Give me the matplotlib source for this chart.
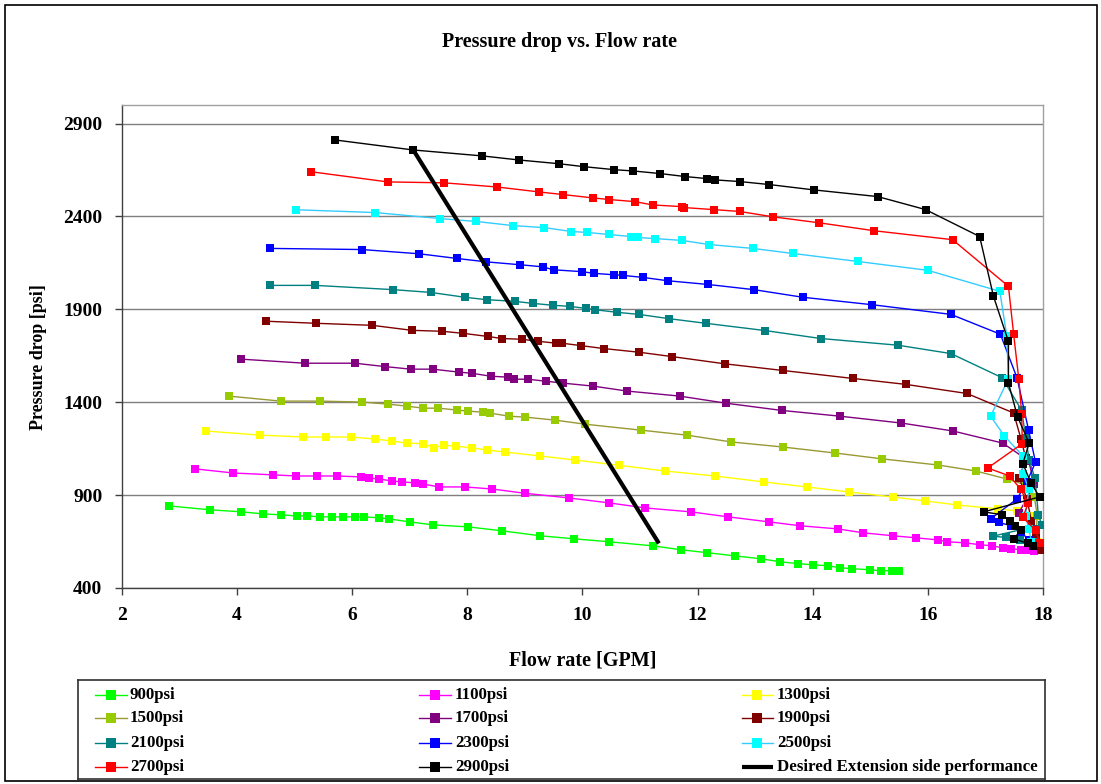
import matplotlib
matplotlib.use("Agg")
import matplotlib.pyplot as plt
from matplotlib.patches import Rectangle

plt.rcParams['font.family'] = ['Liberation Serif', 'DejaVu Serif']
plt.rcParams['font.weight'] = 'bold'

# ---- data: flow rate [GPM] and pressure drop [psi] per relief setting ----
flow_900 = [2.82, 3.53, 4.08, 4.45, 4.76, 5.04, 5.22, 5.45, 5.65, 5.85, 6.05, 6.20, 6.47, 6.64,
            7.00, 7.40, 8.02, 8.60, 9.27, 9.85, 10.46, 11.22, 11.71, 12.17, 12.65, 13.11, 13.44,
            13.75, 14.00, 14.26, 14.47, 14.69, 14.99, 15.18, 15.37, 15.50]
dp_900 = [842, 821, 810, 799, 794, 788, 788, 783, 783, 783, 783, 783, 778, 772,
          756, 740, 729, 708, 681, 665, 649, 627, 606, 590, 573, 557, 541,
          531, 525, 520, 509, 504, 498, 493, 493, 493]

flow_1100 = [3.28, 3.94, 4.63, 5.03, 5.39, 5.74, 6.16, 6.29, 6.47, 6.69, 6.87, 7.09, 7.23, 7.51,
             7.96, 8.43, 9.00, 9.76, 10.47, 11.09, 11.88, 12.53, 13.24, 13.78, 14.44, 14.88,
             15.40, 15.80, 16.17, 16.34, 16.65, 16.90, 17.12, 17.30, 17.45, 17.61, 17.75, 17.85]
dp_1100 = [1041, 1019, 1009, 1003, 1003, 1003, 998, 992, 987, 976, 971, 966, 960, 944,
           944, 933, 910, 885, 858, 831, 810, 783, 756, 735, 718, 697,
           681, 670, 659, 649, 643, 633, 627, 616, 611, 606, 603, 600]

flow_1300 = [3.46, 4.40, 5.15, 5.54, 5.98, 6.40, 6.69, 6.95, 7.23, 7.42, 7.59, 7.80, 8.08, 8.35,
             8.65, 9.26, 9.87, 10.63, 11.43, 12.30, 13.15, 13.90, 14.63, 15.39, 15.95, 16.51,
             17.21, 17.55, 17.75, 17.85, 17.90]
dp_1300 = [1245, 1223, 1213, 1213, 1213, 1202, 1191, 1180, 1177, 1156, 1168, 1164, 1154, 1143,
           1132, 1111, 1089, 1061, 1030, 1003, 971, 944, 917, 890, 869, 847,
           826, 815, 790, 720, 650]

flow_1500 = [3.86, 4.76, 5.45, 6.17, 6.62, 6.95, 7.24, 7.50, 7.82, 8.01, 8.27, 8.39, 8.72, 9.00,
             9.52, 10.04, 11.01, 11.81, 12.59, 13.48, 14.38, 15.21, 16.18, 16.83, 17.37, 17.70,
             17.85, 17.90, 17.88]
dp_1500 = [1433, 1406, 1406, 1401, 1390, 1379, 1368, 1368, 1358, 1352, 1347, 1342, 1325, 1320,
           1304, 1282, 1250, 1223, 1186, 1159, 1127, 1095, 1062, 1030, 987, 955,
           890, 790, 690]

flow_1700 = [4.07, 5.18, 6.05, 6.57, 7.02, 7.40, 7.86, 8.08, 8.41, 8.71, 8.81, 9.05, 9.37, 9.66,
             10.18, 10.78, 11.69, 12.49, 13.46, 14.47, 15.54, 16.44, 17.30, 17.75, 17.85, 17.58,
             17.88, 17.92]
dp_1700 = [1632, 1610, 1610, 1592, 1578, 1578, 1562, 1556, 1540, 1535, 1524, 1524, 1513, 1503,
           1487, 1460, 1433, 1395, 1356, 1325, 1288, 1245, 1180, 1085, 960, 803,
           720, 640]

flow_1900 = [4.51, 5.37, 6.35, 7.04, 7.56, 7.93, 8.36, 8.60, 8.95, 9.23, 9.54, 9.64, 9.97, 10.37,
             10.99, 11.55, 12.47, 13.48, 14.70, 15.62, 16.68, 17.49, 17.62, 17.70, 17.59, 17.72,
             17.80, 17.88, 17.97]
dp_1900 = [1836, 1825, 1814, 1787, 1782, 1771, 1754, 1743, 1739, 1728, 1718, 1718, 1705, 1689,
           1669, 1646, 1607, 1571, 1528, 1496, 1447, 1342, 1200, 1100, 990, 880,
           760, 680, 604]

flow_2100 = [4.57, 5.36, 6.72, 7.37, 7.96, 8.34, 8.83, 9.14, 9.49, 9.78, 10.07, 10.22, 10.60, 10.98,
             11.50, 12.14, 13.17, 14.14, 15.48, 16.40, 17.29, 17.63, 17.70, 17.76, 17.86, 17.92,
             17.98, 17.13, 17.36, 17.60, 17.85]
dp_2100 = [2029, 2029, 2006, 1991, 1965, 1952, 1943, 1932, 1922, 1916, 1905, 1898, 1884, 1873,
           1850, 1825, 1786, 1743, 1707, 1662, 1532, 1356, 1209, 1087, 992, 792,
           740, 679, 672, 660, 650]

flow_2300 = [4.57, 6.17, 7.17, 7.82, 8.32, 8.92, 9.31, 9.50, 9.99, 10.20, 10.55, 10.70, 11.05, 11.48,
             12.18, 12.98, 13.83, 15.03, 16.40, 17.26, 17.55, 17.75, 17.87, 17.72, 17.55, 17.10,
             17.23, 17.45, 17.62, 17.75]
dp_2300 = [2228, 2222, 2199, 2174, 2156, 2140, 2129, 2113, 2103, 2094, 2086, 2083, 2072, 2054,
           2034, 2006, 1965, 1925, 1873, 1766, 1530, 1250, 1077, 971, 880, 774,
           753, 735, 700, 660]

flow_2500 = [5.03, 6.40, 7.52, 8.16, 8.79, 9.34, 9.81, 10.08, 10.46, 10.84, 10.96, 11.26, 11.73, 12.20,
             12.96, 13.65, 14.78, 16.00, 17.25, 17.37, 17.40, 17.09, 17.33, 17.65, 17.65, 17.76,
             17.72, 17.70, 17.75, 17.80]
dp_2500 = [2436, 2421, 2389, 2373, 2351, 2340, 2319, 2314, 2303, 2292, 2287, 2281, 2271, 2249,
           2228, 2201, 2158, 2110, 1997, 1759, 1526, 1325, 1218, 1111, 1016, 932,
           860, 790, 720, 650]

flow_2700 = [5.28, 6.62, 7.60, 8.51, 9.25, 9.66, 10.18, 10.47, 10.91, 11.22, 11.73, 11.76, 12.28, 12.73,
             13.31, 14.11, 15.07, 16.43, 17.40, 17.49, 17.58, 17.63, 17.64, 17.04, 17.42, 17.61,
             17.74, 17.65, 17.87, 17.95]
dp_2700 = [2641, 2586, 2581, 2559, 2532, 2518, 2500, 2491, 2480, 2462, 2453, 2448, 2437, 2427,
           2398, 2366, 2323, 2275, 2024, 1766, 1524, 1338, 1177, 1046, 1003, 933,
           855, 780, 711, 640]

flow_2900 = [5.70, 7.06, 8.26, 8.90, 9.59, 10.03, 10.55, 10.88, 11.35, 11.78, 12.16, 12.30, 12.73, 13.24,
             14.02, 15.13, 15.96, 16.90, 17.14, 17.40, 17.40, 17.56, 17.76, 17.65, 17.79, 17.94,
             16.97, 17.29, 17.43, 17.52, 17.62, 17.49, 17.74, 17.82]
dp_2900 = [2812, 2758, 2726, 2704, 2684, 2668, 2652, 2645, 2631, 2615, 2604, 2597, 2588, 2572,
           2543, 2507, 2437, 2292, 1970, 1727, 1503, 1320, 1180, 1070, 966, 890,
           810, 794, 761, 733, 712, 665, 640, 628]

# target performance curve for the extension side
flow_desired = [7.06, 7.18, 11.33]
dp_desired = [2760, 2700, 640]

series_labels = ['900psi', '1100psi', '1300psi', '1500psi', '1700psi', '1900psi',
                 '2100psi', '2300psi', '2500psi', '2700psi', '2900psi']
desired_label = 'Desired Extension side performance'

x_ticks = [2, 4, 6, 8, 10, 12, 14, 16, 18]
y_ticks = [400, 900, 1400, 1900, 2400, 2900]

# ---- styling ----
series = [
    (flow_900, dp_900, '#00FF00', '#00FF00'),
    (flow_1100, dp_1100, '#FF00FF', '#FF00FF'),
    (flow_1300, dp_1300, '#FFFF00', '#FFFF00'),
    (flow_1500, dp_1500, '#999933', '#99CC00'),
    (flow_1700, dp_1700, '#800080', '#800080'),
    (flow_1900, dp_1900, '#800000', '#800000'),
    (flow_2100, dp_2100, '#008080', '#008080'),
    (flow_2300, dp_2300, '#0000FF', '#0000FF'),
    (flow_2500, dp_2500, '#33CCFF', '#00FFFF'),
    (flow_2700, dp_2700, '#FF0000', '#FF0000'),
    (flow_2900, dp_2900, '#000000', '#000000'),
]

W, H = 1101, 784
fig = plt.figure(figsize=(W / 100, H / 100), dpi=100)


def box(x0, y0, x1, y1):
    """Pixel box (top-left origin) -> figure-fraction rect."""
    return [x0 / W, 1 - y1 / H, (x1 - x0) / W, (y1 - y0) / H]


# outer chart frame
fig.patches.append(Rectangle((5 / W, 1 - 781 / H), (1097 - 5) / W, (781 - 5) / H,
                             transform=fig.transFigure, fill=False,
                             edgecolor='black', linewidth=1.2))

ax = fig.add_axes(box(121.7, 105, 1043, 588))
for (fx, fy, lc, mc), lab in zip(series, series_labels):
    ax.plot(fx, fy, color=lc, linewidth=1.0, marker='s', markersize=6,
            markerfacecolor=mc, markeredgecolor=mc, markeredgewidth=0, label=lab, zorder=3)
ax.plot(flow_desired, dp_desired, color='black', linewidth=3.0, label=desired_label,
        zorder=4, solid_capstyle='butt')

ax.set_xlim(2, 18)
ax.set_ylim(400, 3000)
ax.set_xticks(x_ticks)
ax.set_yticks(y_ticks)
ax.set_xticklabels([str(v) for v in x_ticks])
ax.set_yticklabels([str(v) for v in y_ticks])
ax.tick_params(axis='both', direction='out', length=5, width=1.0, color='#404040',
               labelsize=14)
ax.tick_params(axis='x', pad=9)
ax.tick_params(axis='y', pad=9)
for t in ax.get_xticklabels() + ax.get_yticklabels():
    t.set_fontweight('bold')
ax.grid(axis='y', color='#7f7f7f', linewidth=1.0)
ax.set_axisbelow(True)
for side in ('left', 'bottom'):
    ax.spines[side].set_color('#404040')
    ax.spines[side].set_linewidth(1.0)
for side in ('top', 'right'):
    ax.spines[side].set_color('#a0a0a0')
    ax.spines[side].set_linewidth(1.0)

fig.text(560 / W, 1 - 42 / H, 'Pressure drop vs. Flow rate', ha='center', va='center',
         fontsize=14.5, fontweight='bold')
fig.text(583 / W, 1 - 660 / H, 'Flow rate [GPM]', ha='center', va='center',
         fontsize=14.5, fontweight='bold')
fig.text(39 / W, 1 - 357 / H, 'Pressure drop [psi]', ha='center', va='center',
         rotation=90, fontsize=13, fontweight='bold')

# ---- legend box, three columns filled row by row ----
lax = fig.add_axes(box(77.7, 680, 1045, 779))
lax.set_xlim(77.7, 1045)
lax.set_ylim(779, 680)
lax.set_xticks([])
lax.set_yticks([])
for side in lax.spines.values():
    side.set_color('#303030')
    side.set_linewidth(1.2)

col_handle = [(95, 127), (419, 451), (742, 773)]
col_text = [130, 455, 777]
row_y = [695, 718.5, 743, 767]

entries = list(zip(series, series_labels)) + [(None, desired_label)]
for i, (spec, lab) in enumerate(entries):
    r, c = divmod(i, 3)
    x0, x1 = col_handle[c]
    y = row_y[r]
    if spec is None:
        lax.plot([x0, x1], [y, y], color='black', linewidth=3.0, solid_capstyle='butt')
    else:
        _, _, lc, mc = spec
        lax.plot([x0, x1], [y, y], color=lc, linewidth=1.0)
        lax.plot([(x0 + x1) / 2], [y], marker='s', markersize=6.5, color=mc,
                 markeredgewidth=0, linestyle='none')
    lax.text(col_text[c], y, lab, ha='left', va='center', fontsize=12.2, fontweight='bold')

fig.savefig('out.png', dpi=100)
